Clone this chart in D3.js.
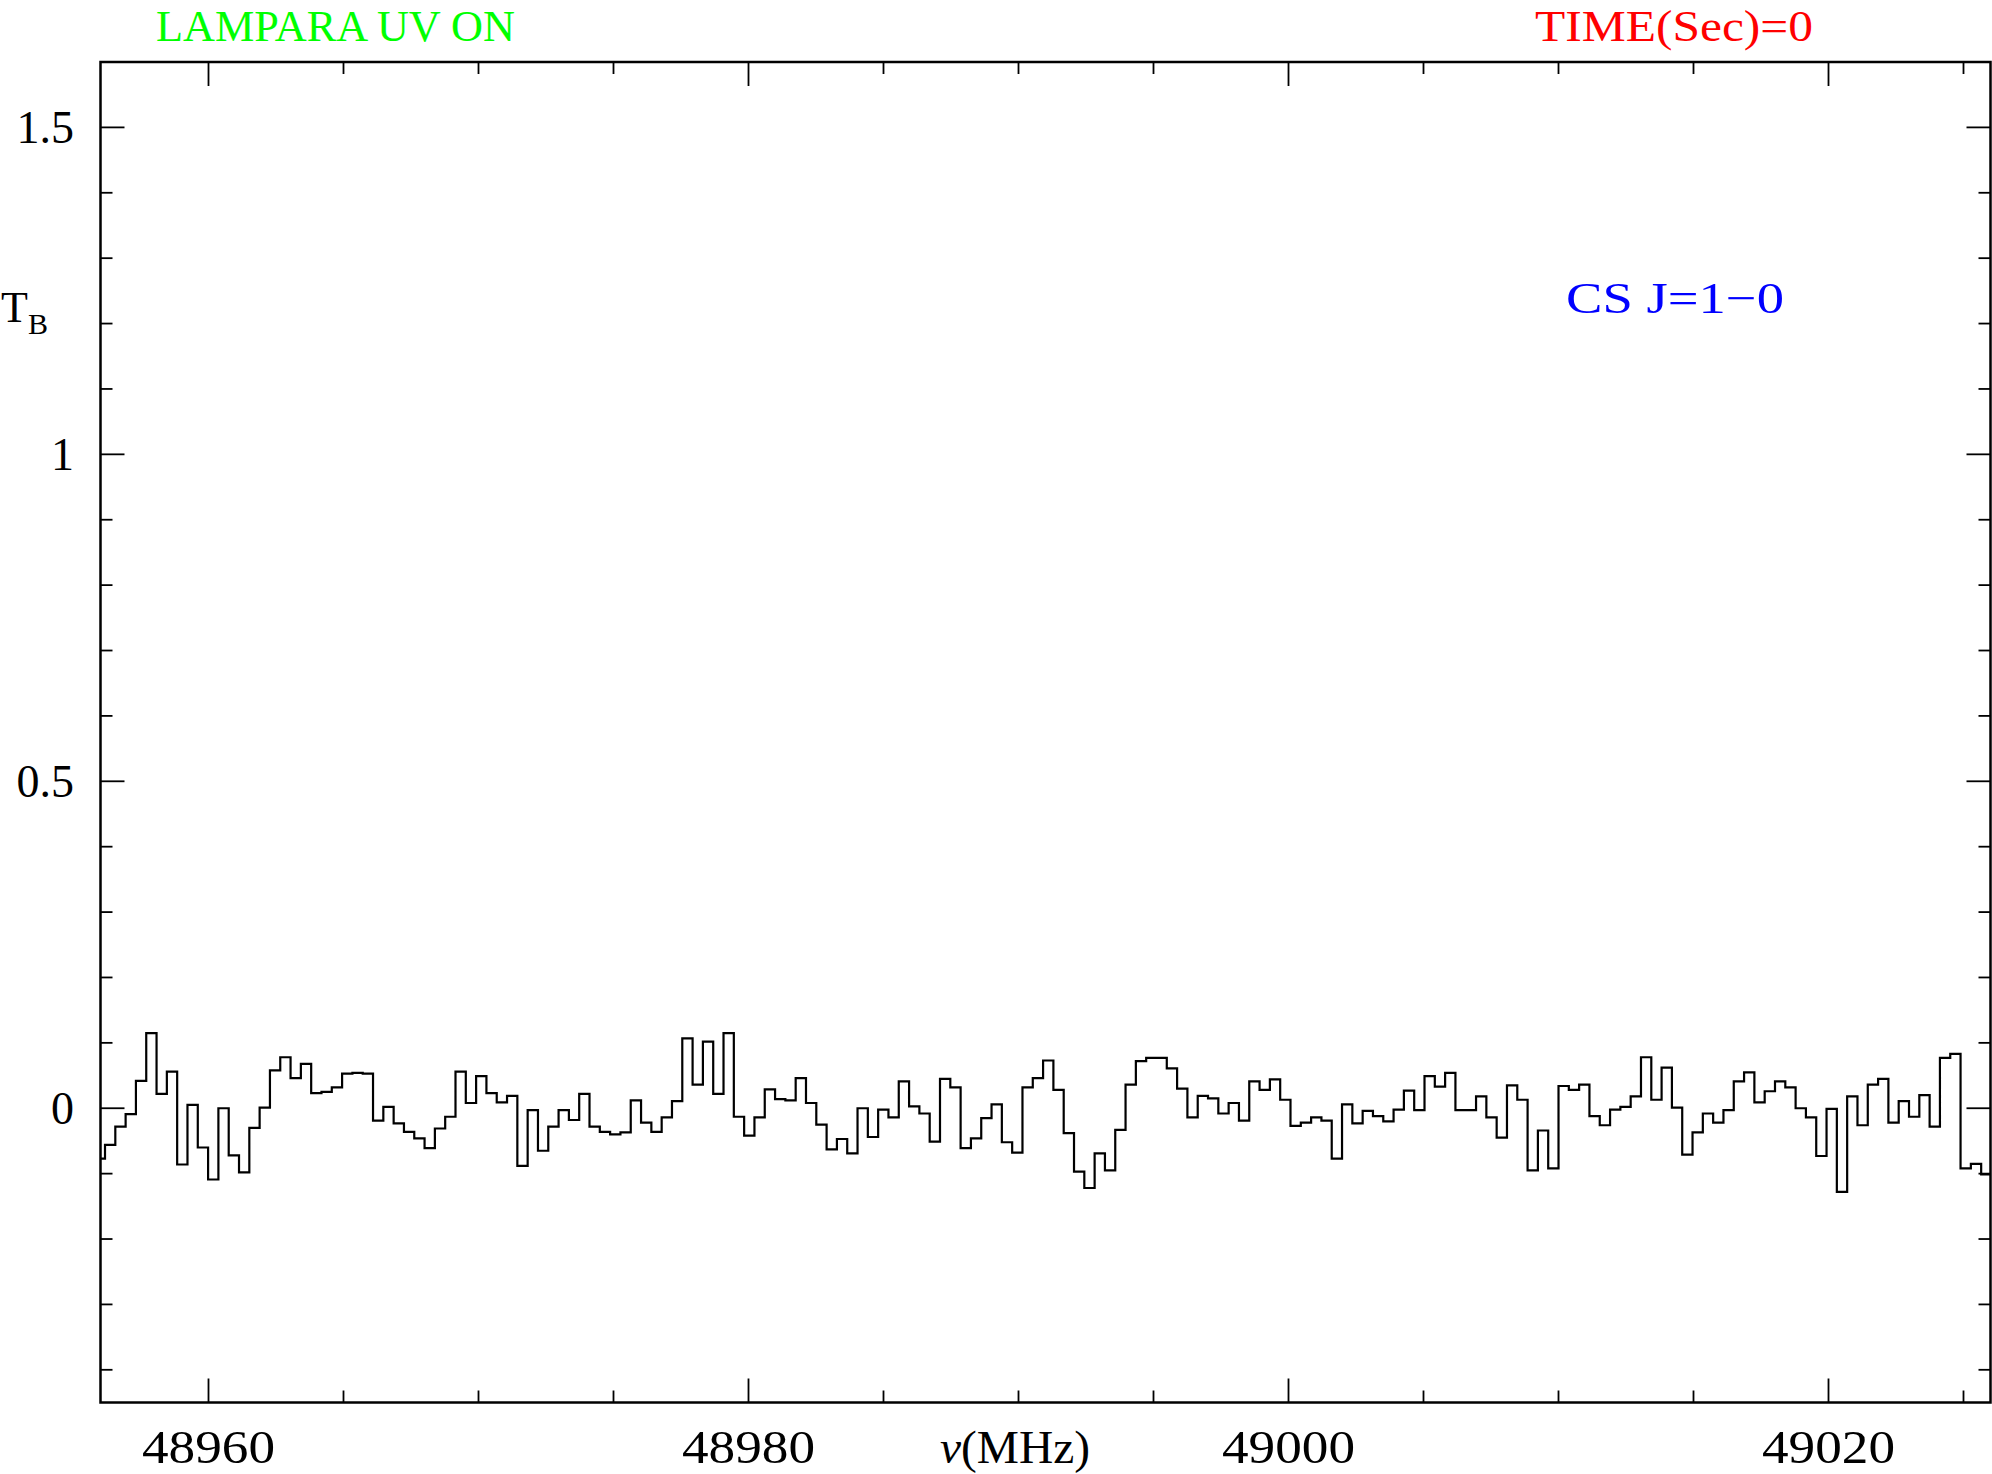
<!DOCTYPE html>
<html><head><meta charset="utf-8">
<script src="https://cdn.jsdelivr.net/npm/d3@7"></script>
<style>html,body{margin:0;padding:0;background:#fff;} svg{display:block;}</style>
</head><body>
<svg id="c" width="1992" height="1474"></svg>
<script>
// ---- data ----
const chanStart = 48955.785;   // left edge of first channel (MHz)
const chanWidth = 0.3818;      // channel width (MHz)
const tb = [
 -0.077,-0.056,-0.028,-0.009, 0.042, 0.115, 0.022, 0.056,-0.086, 0.005,
 -0.060,-0.109, 0.000,-0.072,-0.098,-0.030, 0.001, 0.058, 0.078, 0.046,
  0.068, 0.023, 0.025, 0.032, 0.053, 0.054, 0.053,-0.019, 0.002,-0.023,
 -0.036,-0.046,-0.061,-0.031,-0.013, 0.056, 0.008, 0.049, 0.023, 0.009,
  0.019,-0.088,-0.003,-0.065,-0.028,-0.003,-0.018, 0.022,-0.028,-0.036,
 -0.040,-0.037, 0.012,-0.022,-0.036,-0.014, 0.011, 0.107, 0.036, 0.102,
  0.022, 0.115,-0.013,-0.042,-0.014, 0.029, 0.014, 0.012, 0.046, 0.008,
 -0.025,-0.063,-0.047,-0.069, 0.000,-0.044,-0.002,-0.014, 0.041, 0.003,
 -0.008,-0.051, 0.045, 0.032,-0.061,-0.046,-0.015, 0.006,-0.052,-0.068,
  0.032, 0.046, 0.073, 0.028,-0.038,-0.097,-0.122,-0.069,-0.095,-0.033,
  0.036, 0.072, 0.077, 0.077, 0.061, 0.030,-0.014, 0.019, 0.015,-0.008,
  0.008,-0.019, 0.041, 0.028, 0.044, 0.013,-0.027,-0.022,-0.014,-0.019,
 -0.077, 0.006,-0.023,-0.004,-0.012,-0.020,-0.002, 0.027,-0.003, 0.049,
  0.033, 0.054,-0.003,-0.003, 0.018,-0.014,-0.045, 0.035, 0.013,-0.095,
 -0.034,-0.092, 0.034, 0.028, 0.036,-0.012,-0.026,-0.002, 0.002, 0.018,
  0.078, 0.013, 0.062, 0.001,-0.071,-0.037,-0.008,-0.022,-0.003, 0.041,
  0.055, 0.009, 0.026, 0.041, 0.032, 0.000,-0.014,-0.073,-0.001,-0.128,
  0.018,-0.026, 0.036, 0.045,-0.022, 0.011,-0.013, 0.020,-0.028, 0.077,
  0.083,-0.092,-0.085,-0.101
];
const xMajorTicks = [48960, 48980, 49000, 49020];
const xTickLabels = ["48960", "48980", "49000", "49020"];
const xMinorTicks = [48960,48965,48970,48975,48980,48985,48990,48995,49000,49005,49010,49015,49020,49025];
const yMajorTicks = [0, 0.5, 1, 1.5];
const yTickLabels = ["0", "0.5", "1", "1.5"];
const yMinorTicks = [-0.4,-0.3,-0.2,-0.1,0,0.1,0.2,0.3,0.4,0.5,0.6,0.7,0.8,0.9,1.0,1.1,1.2,1.3,1.4,1.5];
const xDomain = [48956, 49026];
const yDomain = [-0.45, 1.6];
const titleLeft = "LAMPARA UV ON";
const titleRight = "TIME(Sec)=0";
const lineLabel = "CS J=1\u22120";

// ---- layout ----
const L = 100.5, R = 1990.5, T = 62, B = 1402.5;
const x = d3.scaleLinear().domain(xDomain).range([L, R]);
const y = d3.scaleLinear().domain(yDomain).range([B, T]);
const svg = d3.select("#c");
const FONT = "'Liberation Serif', 'DejaVu Serif', serif";

svg.append("defs").append("clipPath").attr("id","clip")
  .append("rect").attr("x",L).attr("y",T).attr("width",R-L).attr("height",B-T);

// spectrum (histogram style)
const pts = tb.map((v,i)=>[chanStart + i*chanWidth, v]);
pts.push([chanStart + tb.length*chanWidth, tb[tb.length-1]]);
const line = d3.line().x(d=>x(d[0])).y(d=>y(d[1])).curve(d3.curveStepAfter);
svg.append("path").attr("d", line(pts)).attr("clip-path","url(#clip)")
  .attr("fill","none").attr("stroke","#000").attr("stroke-width",2.2)
  .attr("stroke-linejoin","miter");

// ticks (inward on all four sides)
const MAJ = 24, MIN = 12;
const tg = svg.append("g").attr("stroke","#000").attr("stroke-width",1.8);
xMinorTicks.forEach(t=>{
  const len = xMajorTicks.includes(t) ? MAJ : MIN;
  tg.append("line").attr("x1",x(t)).attr("x2",x(t)).attr("y1",B).attr("y2",B-len);
  tg.append("line").attr("x1",x(t)).attr("x2",x(t)).attr("y1",T).attr("y2",T+len);
});
yMinorTicks.forEach(t=>{
  const len = yMajorTicks.some(m=>Math.abs(m-t)<1e-9) ? MAJ : MIN;
  tg.append("line").attr("x1",L).attr("x2",L+len).attr("y1",y(t)).attr("y2",y(t));
  tg.append("line").attr("x1",R).attr("x2",R-len).attr("y1",y(t)).attr("y2",y(t));
});

// frame
svg.append("rect").attr("x",L).attr("y",T).attr("width",R-L).attr("height",B-T)
  .attr("fill","none").attr("stroke","#000").attr("stroke-width",2.5);

// tick labels
xMajorTicks.forEach((t,i)=>{
  svg.append("text").attr("x",x(t)).attr("y",1463).attr("text-anchor","middle")
    .attr("font-family",FONT).attr("font-size",46)
    .attr("textLength",133).attr("lengthAdjust","spacingAndGlyphs")
    .text(xTickLabels[i]);
});
yMajorTicks.forEach((t,i)=>{
  svg.append("text").attr("x",74).attr("y",y(t)+15.5).attr("text-anchor","end")
    .attr("font-family",FONT).attr("font-size",46)
    .text(yTickLabels[i]);
});

// axis titles
const xt = svg.append("text").attr("x",1015).attr("y",1463).attr("text-anchor","middle")
  .attr("font-family",FONT).attr("font-size",46)
  .attr("textLength",150).attr("lengthAdjust","spacingAndGlyphs");
xt.append("tspan").attr("font-style","italic").text("\u03BD");
xt.append("tspan").text("(MHz)");

const yt = svg.append("text").attr("x",1).attr("y",322).attr("font-family",FONT).attr("font-size",44);
yt.append("tspan").text("T");
yt.append("tspan").attr("font-size",30).attr("dy",12).text("B");

// annotations
svg.append("text").attr("x",156).attr("y",41).attr("fill","#00ff00")
  .attr("font-family",FONT).attr("font-size",45)
  .attr("textLength",359).attr("lengthAdjust","spacingAndGlyphs").text(titleLeft);
svg.append("text").attr("x",1535).attr("y",41).attr("fill","#ff0000")
  .attr("font-family",FONT).attr("font-size",45)
  .attr("textLength",278).attr("lengthAdjust","spacingAndGlyphs").text(titleRight);
svg.append("text").attr("x",1566).attr("y",313).attr("fill","#0000ff")
  .attr("font-family",FONT).attr("font-size",44)
  .attr("textLength",218).attr("lengthAdjust","spacingAndGlyphs").text(lineLabel);
</script>
</body></html>
